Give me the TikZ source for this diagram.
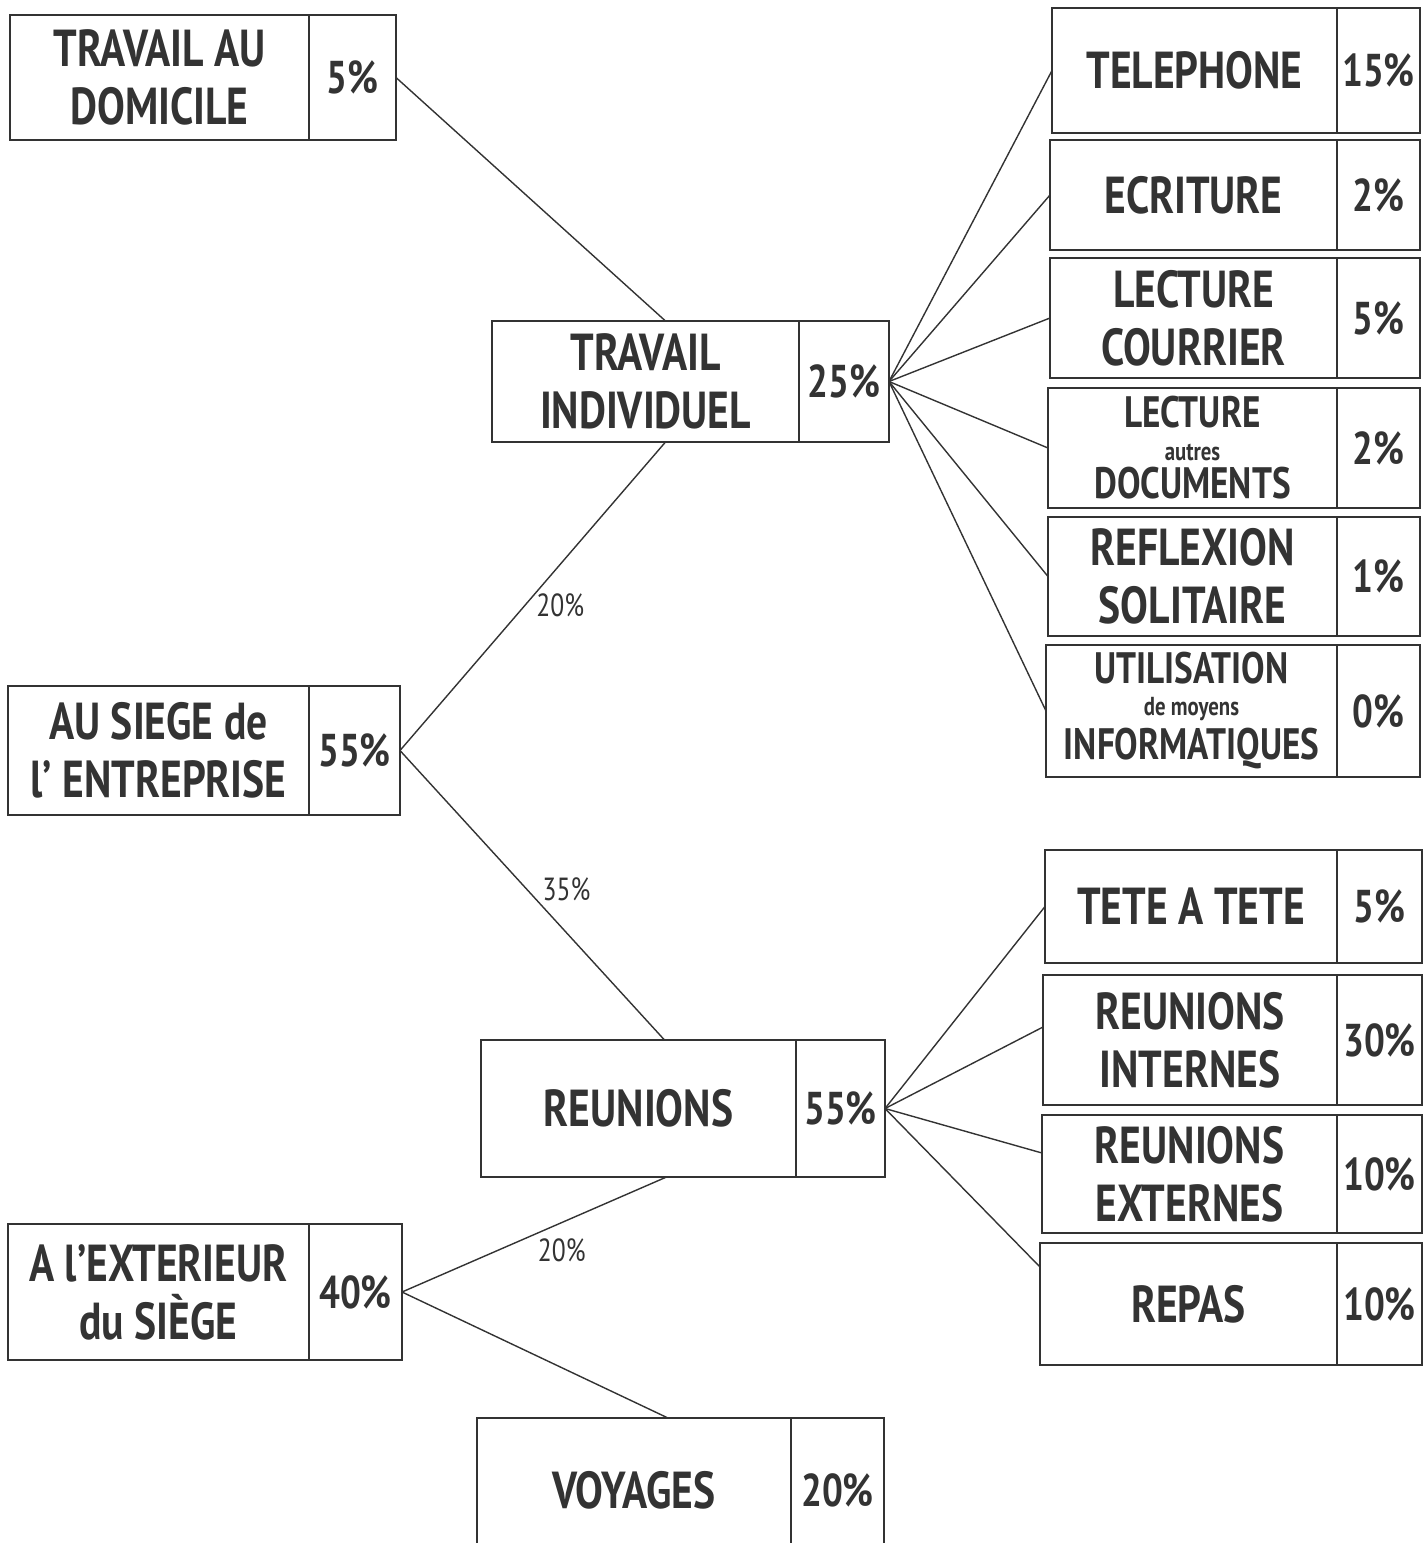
\documentclass[tikz,border=0pt]{standalone}
\usepackage{fontspec}
\setmainfont{PT Sans}[FakeStretch=0.8]
\usetikzlibrary{positioning}
\definecolor{ink}{HTML}{333333}
\tikzset{
  cell/.style 2 args={rectangle, draw=ink, line width=1.8pt, outer sep=0pt, inner sep=1pt,
    align=center, text=ink, minimum width=#1pt, minimum height=#2pt,
    font=\fontsize{52}{58}\selectfont\bfseries},
  pctCell/.style={font=\fontsize{46}{50}\selectfont\bfseries},
  tightCell/.style={font=\fontsize{44}{44}\selectfont\bfseries},
  link/.style={draw=ink, line width=1.4pt},
  linkPct/.style={text=ink, font=\fontsize{32}{34}\selectfont, inner sep=3pt}
}
\newcommand{\smallword}[1]{{\fontsize{26}{26}\selectfont #1}}

\begin{document}
\begin{tikzpicture}[x=1pt, y=-1pt]
      \useasboundingbox (0,0) rectangle (1426,1543);

      % left column
      \node[cell={299}{125}, anchor=north west] (domicile) at (10,15) {TRAVAIL AU\\DOMICILE};
      \node[cell={87}{125}, pctCell, right=0pt of domicile] (domicilePct) {5\%};

      \node[cell={301}{129}, anchor=north west] (siege) at (8,686) {AU SIEGE de\\l' ENTREPRISE};
      \node[cell={91}{129}, pctCell, right=0pt of siege] (siegePct) {55\%};

      \node[cell={301}{136}, anchor=north west] (exterieur) at (8,1224) {A l'EXTERIEUR\\du SIÈGE};
      \node[cell={93}{136}, pctCell, right=0pt of exterieur] (exterieurPct) {40\%};

      % middle column
      \node[cell={307}{121}, anchor=north west] (indiv) at (492,321) {TRAVAIL\\INDIVIDUEL};
      \node[cell={90}{121}, pctCell, right=0pt of indiv] (indivPct) {25\%};

      \node[cell={315}{137}, anchor=north west] (reunions) at (481,1040) {REUNIONS};
      \node[cell={89}{137}, pctCell, right=0pt of reunions] (reunionsPct) {55\%};

      \node[cell={314}{145}, anchor=north west] (voyages) at (477,1418) {VOYAGES};
      \node[cell={93}{145}, pctCell, right=0pt of voyages] (voyagesPct) {20\%};

      % right column
      \node[cell={285}{125}, anchor=north west] (telephone) at (1052,8) {TELEPHONE};
      \node[cell={83}{125}, pctCell, right=0pt of telephone] (telephonePct) {15\%};

      \node[cell={287}{110}, anchor=north west] (ecriture) at (1050,140) {ECRITURE};
      \node[cell={83}{110}, pctCell, right=0pt of ecriture] (ecriturePct) {2\%};

      \node[cell={287}{120}, anchor=north west] (courrier) at (1050,258) {LECTURE\\COURRIER};
      \node[cell={83}{120}, pctCell, right=0pt of courrier] (courrierPct) {5\%};

      \node[cell={289}{120}, tightCell, anchor=north west] (documents) at (1048,388)
        {LECTURE\\[-11pt]\smallword{autres}\\[-6pt]DOCUMENTS};
      \node[cell={83}{120}, pctCell, right=0pt of documents] (documentsPct) {2\%};

      \node[cell={289}{119}, anchor=north west] (reflexion) at (1048,517) {REFLEXION\\SOLITAIRE};
      \node[cell={83}{119}, pctCell, right=0pt of reflexion] (reflexionPct) {1\%};

      \node[cell={291}{132}, tightCell, anchor=north west] (informatique) at (1046,645)
        {UTILISATION\\[-12pt]\smallword{de moyens}\\[0pt]INFORMATIQUES};
      \node[cell={83}{132}, pctCell, right=0pt of informatique] (informatiquePct) {0\%};

      \node[cell={292}{113}, anchor=north west] (tete) at (1045,850) {TETE A TETE};
      \node[cell={85}{113}, pctCell, right=0pt of tete] (tetePct) {5\%};

      \node[cell={294}{130}, anchor=north west] (internes) at (1043,975) {REUNIONS\\INTERNES};
      \node[cell={85}{130}, pctCell, right=0pt of internes] (internesPct) {30\%};

      \node[cell={295}{118}, anchor=north west] (externes) at (1042,1115) {REUNIONS\\EXTERNES};
      \node[cell={85}{118}, pctCell, right=0pt of externes] (externesPct) {10\%};

      \node[cell={297}{122}, anchor=north west] (repas) at (1040,1243) {REPAS};
      \node[cell={85}{122}, pctCell, right=0pt of repas] (repasPct) {10\%};

      % links
      \draw[link] (domicilePct.east) -- ([xshift=20pt]indiv.north);
      \draw[link] (siegePct.east) -- ([xshift=20pt]indiv.south)
        node[linkPct, pos=0.47, right, xshift=8pt] {20\%};
      \draw[link] (siegePct.east) -- ([xshift=26pt]reunions.north)
        node[linkPct, pos=0.48, right, xshift=12pt] {35\%};
      \draw[link] (exterieurPct.east) -- ([xshift=28pt]reunions.south)
        node[linkPct, pos=0.5, anchor=north west] {20\%};
      \draw[link] (exterieurPct.east) -- ([xshift=34pt]voyages.north);

      \foreach \n in {telephone,ecriture,courrier,documents,reflexion,informatique}
        \draw[link] (indivPct.east) -- (\n.west);
      \foreach \n/\dy in {tete/0,internes/13,externes/21,repas/37}
        \draw[link] (reunionsPct.east) -- ([yshift=\dy pt]\n.west);

    \end{tikzpicture}
\end{document}
